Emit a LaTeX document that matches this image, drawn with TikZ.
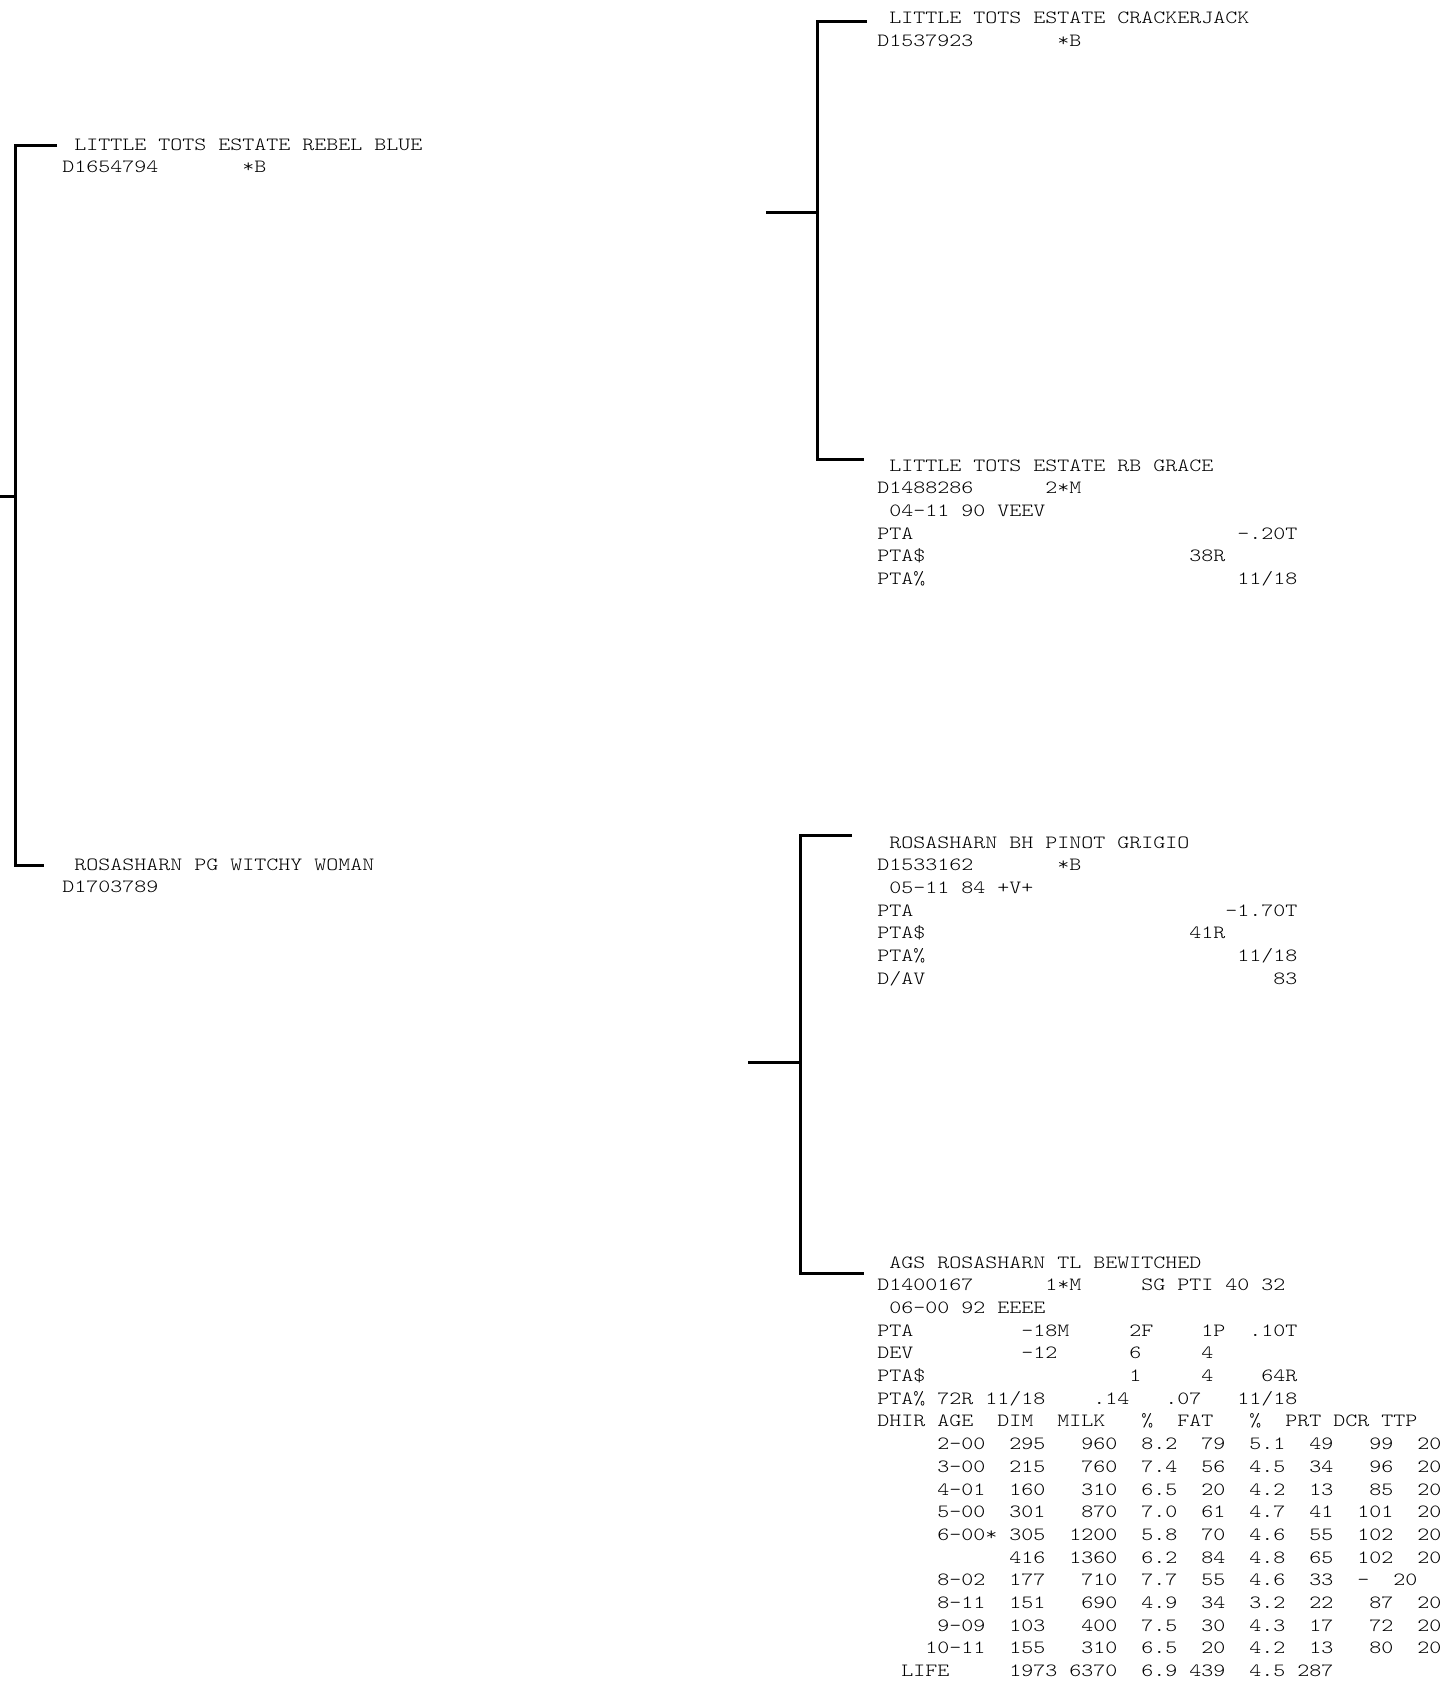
\documentclass[tikz,border=0pt]{standalone}
\usepackage{fontspec}
\setmonofont[FakeStretch=1.225]{lmmonolt10-regular.otf}
\newcommand\gap[1]{\hspace*{#1\fontcharwd\font`0}}

\begin{document}
\begin{tikzpicture}[
  x=0.5pt, y=0.5pt,
  entry/.style={anchor=base west, inner sep=0pt, text width=60em,
    font={\ttfamily\fontsize{9.33}{11.35}\selectfont\frenchspacing}},
  link/.style={line width=1.5pt}
]
\useasboundingbox (0,0) rectangle (1441,-1681);

% animals
\node[entry] (rebel) at (62,-150) {\gap{1}LITTLE\gap{1}TOTS\gap{1}ESTATE\gap{1}REBEL\gap{1}BLUE\\
D1654794\gap{7}*B};
\node[entry] (witchy) at (62,-870) {\gap{1}ROSASHARN\gap{1}PG\gap{1}WITCHY\gap{1}WOMAN\\
D1703789};
\node[entry] (crackerjack) at (877,-24) {\gap{1}LITTLE\gap{1}TOTS\gap{1}ESTATE\gap{1}CRACKERJACK\\
D1537923\gap{7}*B};
\node[entry] (grace) at (877,-471) {\gap{1}LITTLE\gap{1}TOTS\gap{1}ESTATE\gap{1}RB\gap{1}GRACE\\
D1488286\gap{6}2*M\\
\gap{1}04-11\gap{1}90\gap{1}VEEV\\
PTA\gap{27}-.20T\\
PTA\$\gap{22}38R\\
PTA\%\gap{26}11/18};
\node[entry] (pinot) at (877,-848) {\gap{1}ROSASHARN\gap{1}BH\gap{1}PINOT\gap{1}GRIGIO\\
D1533162\gap{7}*B\\
\gap{1}05-11\gap{1}84\gap{1}+V+\\
PTA\gap{26}-1.70T\\
PTA\$\gap{22}41R\\
PTA\%\gap{26}11/18\\
D/AV\gap{29}83};
\node[entry] (bewitched) at (877,-1268) {\gap{1}AGS\gap{1}ROSASHARN\gap{1}TL\gap{1}BEWITCHED\\
D1400167\gap{6}1*M\gap{5}SG\gap{1}PTI\gap{1}40\gap{1}32\\
\gap{1}06-00\gap{1}92\gap{1}EEEE\\
PTA\gap{9}-18M\gap{5}2F\gap{4}1P\gap{2}.10T\\
DEV\gap{9}-12\gap{6}6\gap{5}4\\
PTA\$\gap{17}1\gap{5}4\gap{4}64R\\
PTA\%\gap{1}72R\gap{1}11/18\gap{4}.14\gap{3}.07\gap{3}11/18\\
DHIR\gap{1}AGE\gap{2}DIM\gap{2}MILK\gap{3}\%\gap{2}FAT\gap{3}\%\gap{2}PRT\gap{1}DCR\gap{1}TTP\\
\gap{5}2-00\gap{2}295\gap{3}960\gap{2}8.2\gap{2}79\gap{2}5.1\gap{2}49\gap{3}99\gap{2}20\\
\gap{5}3-00\gap{2}215\gap{3}760\gap{2}7.4\gap{2}56\gap{2}4.5\gap{2}34\gap{3}96\gap{2}20\\
\gap{5}4-01\gap{2}160\gap{3}310\gap{2}6.5\gap{2}20\gap{2}4.2\gap{2}13\gap{3}85\gap{2}20\\
\gap{5}5-00\gap{2}301\gap{3}870\gap{2}7.0\gap{2}61\gap{2}4.7\gap{2}41\gap{2}101\gap{2}20\\
\gap{5}6-00*\gap{1}305\gap{2}1200\gap{2}5.8\gap{2}70\gap{2}4.6\gap{2}55\gap{2}102\gap{2}20\\
\gap{11}416\gap{2}1360\gap{2}6.2\gap{2}84\gap{2}4.8\gap{2}65\gap{2}102\gap{2}20\\
\gap{5}8-02\gap{2}177\gap{3}710\gap{2}7.7\gap{2}55\gap{2}4.6\gap{2}33\gap{2}-\gap{2}20\\
\gap{5}8-11\gap{2}151\gap{3}690\gap{2}4.9\gap{2}34\gap{2}3.2\gap{2}22\gap{3}87\gap{2}20\\
\gap{5}9-09\gap{2}103\gap{3}400\gap{2}7.5\gap{2}30\gap{2}4.3\gap{2}17\gap{3}72\gap{2}20\\
\gap{4}10-11\gap{2}155\gap{3}310\gap{2}6.5\gap{2}20\gap{2}4.2\gap{2}13\gap{3}80\gap{2}20\\
\gap{2}LIFE\gap{5}1973\gap{1}6370\gap{2}6.9\gap{1}439\gap{2}4.5\gap{1}287};

% brackets
\coordinate (dam-in) at (0,-496);
\coordinate (dam-fork) at (15,-496);
\coordinate (dam-top) at (57,-145);
\coordinate (dam-bot) at (44,-865);
\draw[link] (dam-in) -- (dam-fork);
\draw[link] (dam-top) -| (dam-fork) |- (dam-bot);

\coordinate (rebel-in) at (766,-212);
\coordinate (rebel-fork) at (817,-212);
\coordinate (rebel-top) at (867,-21);
\coordinate (rebel-bot) at (864,-459);
\draw[link] (rebel-in) -- (rebel-fork);
\draw[link] (rebel-top) -| (rebel-fork) |- (rebel-bot);

\coordinate (witchy-in) at (748,-1062);
\coordinate (witchy-fork) at (800,-1062);
\coordinate (witchy-top) at (852,-835);
\coordinate (witchy-bot) at (864,-1273);
\draw[link] (witchy-in) -- (witchy-fork);
\draw[link] (witchy-top) -| (witchy-fork) |- (witchy-bot);
\end{tikzpicture}
\end{document}
